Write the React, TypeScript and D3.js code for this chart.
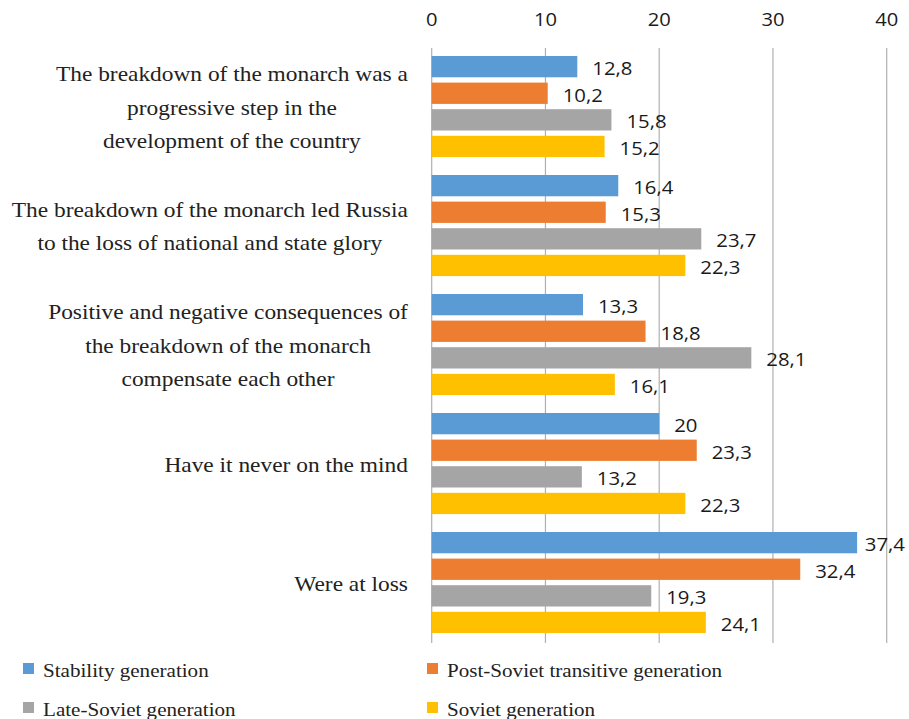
import React, { useEffect, useRef } from "react";
import * as d3 from "d3";

// Survey answers, one group per statement
const categories: string[][] = [
  ["The breakdown of the monarch was a", "progressive step in the", "development of the country"],
  ["The breakdown of the monarch led Russia", "to the loss of national and state glory"],
  ["Positive and negative consequences of", "the breakdown of the monarch", "compensate each other"],
  ["Have it never on the mind"],
  ["Were at loss"],
];

const seriesNames = [
  "Stability generation",
  "Post-Soviet transitive generation",
  "Late-Soviet generation",
  "Soviet generation",
];

const stability = [12.8, 16.4, 13.3, 20, 37.4];
const postSoviet = [10.2, 15.3, 18.8, 23.3, 32.4];
const lateSoviet = [15.8, 23.7, 28.1, 13.2, 19.3];
const soviet = [15.2, 22.3, 16.1, 22.3, 24.1];

const xTicks = [0, 10, 20, 30, 40];

const colors = ["#5b9bd5", "#ed7d31", "#a5a5a5", "#ffc000"];

const W = 909;
const H = 719;

const SERIF = "'Liberation Serif', 'Times New Roman', serif";
const SANS = "'Open Sans', sans-serif";

export default function App() {
  const ref = useRef<SVGSVGElement | null>(null);

  useEffect(() => {
    const svg = d3.select(ref.current);
    svg.selectAll("*").remove();

    const values = [stability, postSoviet, lateSoviet, soviet];
    const catIdx = categories.map((_, i) => i);

    const x = d3.scaleLinear().domain([0, 40]).range([431.7, 886.7]);
    const yGroup = d3.scaleBand<number>().domain(catIdx).range([48, 643]).padding(0);
    const yInner = d3
      .scaleBand<number>()
      .domain(seriesNames.map((_, i) => i))
      .range([8, 109.1])
      .paddingInner(0.2)
      .paddingOuter(0);

    // text is drawn slightly widened
    const place = (sel: any, px: number, py: number, sx: number) =>
      sel.attr("transform", `translate(${px},${py}) scale(${sx},1)`);

    // gridlines
    svg
      .append("g")
      .selectAll("line")
      .data(xTicks)
      .join("line")
      .attr("x1", (d) => x(d))
      .attr("x2", (d) => x(d))
      .attr("y1", 48)
      .attr("y2", 643)
      .attr("stroke", "#b0b0b0")
      .attr("stroke-width", 1.2);

    // top tick labels
    const tickSx = 1.12;
    svg
      .append("g")
      .selectAll("text")
      .data(xTicks)
      .join("text")
      .attr("text-anchor", "middle")
      .attr("font-family", SANS)
      .attr("font-size", 18)
      .attr("fill", "#1a1a1a")
      .text((d) => String(d))
      .each(function (d) {
        place(d3.select(this), x(d), 26, tickSx);
      });

    // bars
    const groups = svg
      .append("g")
      .selectAll("g")
      .data(catIdx)
      .join("g")
      .attr("transform", (c) => `translate(0,${yGroup(c)})`);

    groups
      .selectAll("rect")
      .data((c) => values.map((vals, s) => ({ s, v: vals[c] })))
      .join("rect")
      .attr("x", x(0))
      .attr("y", (d) => yInner(d.s) as number)
      .attr("width", (d) => x(d.v) - x(0))
      .attr("height", yInner.bandwidth())
      .attr("fill", (d) => colors[d.s]);

    // value labels
    const labelRight = 905;
    const valSx = 1.13;
    groups
      .selectAll("text.val")
      .data((c) => values.map((vals, s) => ({ s, v: vals[c] })))
      .join("text")
      .attr("class", "val")
      .attr("font-family", SANS)
      .attr("font-size", 18)
      .attr("fill", "#1a1a1a")
      .text((d) => String(d.v).replace(".", ","))
      .each(function (d) {
        const el = this as SVGTextElement;
        const w = el.getComputedTextLength() * valSx;
        let px = x(d.v) + 15;
        if (px + w > labelRight) px = labelRight - w;
        const py = (yInner(d.s) as number) + yInner.bandwidth() / 2 + 8.5;
        place(d3.select(el), px, py, valSx);
      });

    // category labels: lines centred within their block, block right-aligned
    const labelEdge = 408;
    const lineGap = 33.5;
    const catSx = 1.17;
    catIdx.forEach((c) => {
      const lines = categories[c];
      const g = svg.append("g");
      const center = (yGroup(c) as number) + yGroup.bandwidth() / 2;
      const texts = g
        .selectAll("text")
        .data(lines)
        .join("text")
        .attr("font-family", SERIF)
        .attr("font-size", 20)
        .attr("fill", "#222")
        .attr("text-anchor", "middle")
        .text((d) => d);
      let maxW = 0;
      texts.each(function () {
        maxW = Math.max(maxW, (this as SVGTextElement).getComputedTextLength() * catSx);
      });
      texts.each(function (_, i) {
        const py = center + 7 + (i - (lines.length - 1) / 2) * lineGap;
        place(d3.select(this), labelEdge - maxW / 2, py, catSx);
      });
    });

    // legend
    const legSx = 1.11;
    const legendPos = [
      { x: 23, y: 663 },
      { x: 427, y: 663 },
      { x: 23, y: 702 },
      { x: 427, y: 702 },
    ];
    const leg = svg
      .append("g")
      .selectAll("g")
      .data(seriesNames.map((n, i) => ({ n, i })))
      .join("g")
      .attr("transform", (d) => `translate(${legendPos[d.i].x},${legendPos[d.i].y})`);
    leg
      .append("rect")
      .attr("width", 11)
      .attr("height", 11)
      .attr("fill", (d) => colors[d.i]);
    leg
      .append("text")
      .attr("font-family", SERIF)
      .attr("font-size", 19)
      .attr("fill", "#222")
      .text((d) => d.n)
      .each(function () {
        place(d3.select(this), 20, 13.5, legSx);
      });
  }, []);

  return (
    <svg
      ref={ref}
      width={W}
      height={H}
      style={{ position: "absolute", left: 0, top: 0, background: "#fff", display: "block" }}
    />
  );
}
